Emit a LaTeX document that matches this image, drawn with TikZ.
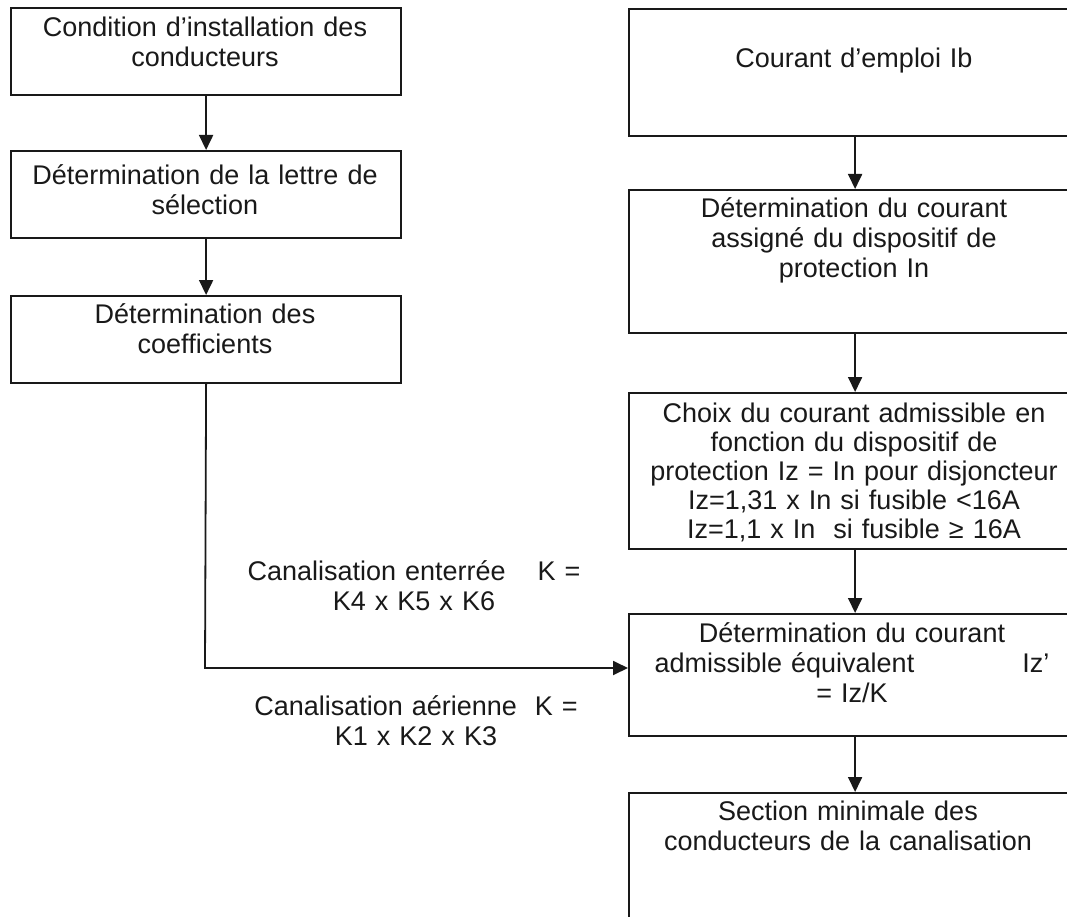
\documentclass[tikz,border=0pt]{standalone}
\usepackage{fontspec}
\setmainfont{Liberation Sans}
\usetikzlibrary{arrows.meta}
\begin{document}
\begin{tikzpicture}[x=1pt,y=-1pt,
  boxst/.style={draw=black!90, line width=2.2pt, inner sep=0pt, anchor=north west},
  txt/.style={anchor=base, inner sep=0pt, align=center, text=black!90, font=\fontsize{27}{30}\selectfont},
  arr/.style={draw=black!90, line width=1.8pt, -{Triangle[length=15pt,width=14pt]}}]
\useasboundingbox (0,0) rectangle (1067,917);
\clip (0,0) rectangle (1067,917);
\fill[white] (0,0) rectangle (1067,917);

% left column boxes
\node[boxst, minimum width=390pt, minimum height=87pt] (L1) at (10,7) {};
\node[boxst, minimum width=390pt, minimum height=87pt] (L2) at (10,150) {};
\node[boxst, minimum width=390pt, minimum height=87pt] (L3) at (10,295) {};

\node[txt, text width=380pt] (L1t) at (205,37) {Condition d’installation des\\conducteurs};
\node[txt, text width=380pt] (L2t) at (205,185) {Détermination de la lettre de\\sélection};
\node[txt, text width=380pt] (L3t) at (205,323) {Détermination des\\coefficients};

% right column boxes
\node[boxst, minimum width=452pt, minimum height=127pt] (R1) at (628,8) {};
\node[boxst, minimum width=452pt, minimum height=143pt] (R2) at (628,189) {};
\node[boxst, minimum width=452pt, minimum height=156pt] (R3) at (628,392) {};
\node[boxst, minimum width=452pt, minimum height=122pt] (R4) at (628,613) {};
\node[boxst, minimum width=452pt, minimum height=150pt] (R5) at (628,792) {};

\node[txt, text width=440pt] (R1t) at (854,68) {Courant d’emploi Ib};
\node[txt, text width=440pt] (R2t) at (854,218) {Détermination du courant\\assigné du dispositif de\\protection In};
\node[txt, text width=440pt, font=\fontsize{27}{29}\selectfont] (R3t) at (854,422) {Choix du courant admissible en\\fonction du dispositif de\\protection Iz = In pour disjoncteur\\Iz=1,31 x In si fusible <16A\\Iz=1,1 x In\ \ si fusible ≥ 16A};
\node[txt, text width=440pt] (R4t) at (852,642) {Détermination du courant\\admissible équivalent\hspace{108pt}Iz’\\= Iz/K};
\node[txt, text width=440pt] (R5t) at (848,820) {Section minimale des\\conducteurs de la canalisation};

% side labels
\node[txt, text width=360pt] (LA) at (414,580) {Canalisation enterrée\hspace{32pt}K =\\K4 x K5 x K6};
\node[txt, text width=360pt] (LB) at (416,715) {Canalisation aérienne\hspace{18pt}K =\\K1 x K2 x K3};

% connectors
\draw[arr] (L1.south) -- (L2.north);
\draw[arr] (L2.south) -- (L3.north);
\draw[arr] (R1.south) -- (R2.north);
\draw[arr] (R2.south) -- (R3.north);
\draw[arr] (R3.south) -- (R4.north);
\draw[arr] (R4.south) -- (R5.north);
\coordinate (J) at (205,668);
\draw[arr] (L3.south) -- (J) -- (J -| R4.west);
\end{tikzpicture}
\end{document}
